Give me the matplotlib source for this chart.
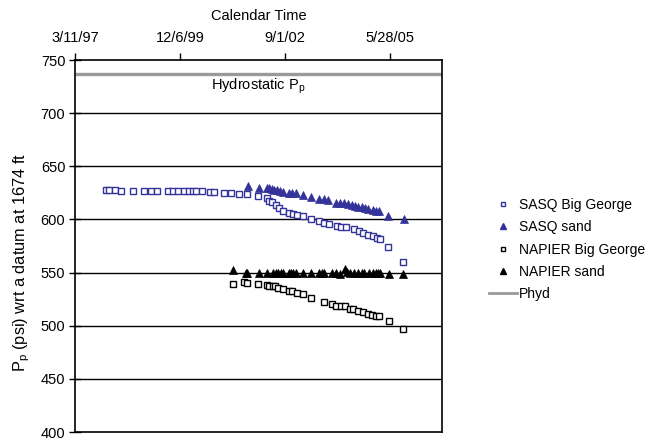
import matplotlib
matplotlib.use("Agg")
import matplotlib.pyplot as plt
import pandas as pd
from matplotlib.lines import Line2D

plt.rcParams['font.family'] = ['Liberation Sans', 'DejaVu Sans']
plt.rcParams['mathtext.fontset'] = 'custom'
plt.rcParams['mathtext.rm'] = 'Liberation Sans'
plt.rcParams['mathtext.it'] = 'Liberation Sans'

# Dates are spreadsheet serial day numbers
sasq_bg_days = [35796, 35824, 35881, 35938, 36050, 36161, 36225, 36279, 36384, 36434,
                36485, 36536, 36587, 36628, 36654, 36715, 36787, 36828, 36920, 36990,
                37063, 37137, 37247, 37327, 37352, 37375, 37416, 37448, 37486, 37543,
                37575, 37613, 37671, 37747, 37826, 37874, 37919, 37995, 38039, 38081,
                38160, 38207, 38248, 38296, 38344, 38382, 38408, 38487, 38630]
sasq_bg_psi = [627.5, 627.5, 627.3, 627.2, 627.0, 627.0, 627.0, 627.0, 626.8, 626.8,
               626.7, 626.7, 626.6, 626.6, 626.5, 626.3, 626.0, 625.9, 625.2, 625.0,
               624.3, 623.5, 622.5, 620.3, 617.2, 616.0, 613.4, 610.9, 608.1, 605.6,
               604.7, 604.0, 603.1, 600.3, 598.7, 596.8, 595.3, 594.0, 593.0, 592.5,
               590.6, 588.7, 587.4, 585.6, 584.3, 582.5, 581.2, 574.0, 560.2]

sasq_sand_days = [37152, 37254, 37328, 37352, 37375, 37400, 37428, 37454, 37480, 37540,
                  37566, 37607, 37671, 37750, 37829, 37874, 37915, 37988, 38026, 38064,
                  38105, 38138, 38169, 38201, 38233, 38265, 38296, 38338, 38369, 38401,
                  38487, 38636]
sasq_sand_psi = [631.2, 630.0, 629.1, 629.1, 628.4, 628.1, 627.5, 626.8, 625.9, 625.0,
                 624.4, 624.4, 622.8, 621.2, 619.0, 618.8, 618.1, 615.9, 615.6, 615.0,
                 614.1, 613.4, 612.5, 611.8, 611.3, 610.9, 609.7, 608.7, 608.1, 607.8,
                 603.4, 600.0]

napier_bg_days = [37009, 37114, 37143, 37247, 37327, 37352, 37385, 37407, 37438, 37486,
                  37540, 37566, 37613, 37671, 37747, 37874, 37947, 37988, 38033, 38074,
                  38122, 38153, 38201, 38243, 38290, 38334, 38369, 38398, 38493, 38630]
napier_bg_psi = [539.1, 541.0, 540.1, 539.1, 538.5, 537.8, 537.5, 536.9, 535.9, 534.7,
                 533.1, 532.2, 531.2, 530.0, 526.5, 522.2, 520.6, 519.0, 518.1, 518.1,
                 515.9, 515.7, 513.4, 512.5, 511.3, 509.7, 509.4, 509.4, 504.7, 497.2]

napier_sand_days = [37009, 37130, 37143, 37254, 37333, 37390, 37416, 37438, 37464, 37486,
                    37540, 37559, 37581, 37607, 37671, 37750, 37829, 37852, 37874, 37947,
                    37988, 38026, 38074, 38090, 38122, 38160, 38201, 38233, 38258, 38303,
                    38338, 38367, 38386, 38408, 38494, 38630]
napier_sand_psi = [552.0, 549.4, 549.4, 550.0, 549.4, 549.4, 550.0, 550.0, 550.0, 549.4,
                   550.0, 550.0, 549.4, 549.4, 549.4, 549.4, 549.4, 549.4, 549.4, 550.0,
                   549.4, 548.8, 553.2, 551.0, 549.4, 549.4, 549.4, 549.4, 549.4, 549.4,
                   549.4, 549.4, 549.4, 549.4, 548.8, 548.8]

hydrostatic_psi = 737.0

x_tick_labels = ['3/11/97', '12/6/99', '9/1/02', '5/28/05']
x_end = '10/10/06'
y_ticks = [400, 450, 500, 550, 600, 650, 700, 750]


def to_date(serials):
    return pd.to_datetime(pd.Series(serials), unit='D', origin='1899-12-30')


blue = '#333399'
gray = '#999999'
fs = 10.5

fig = plt.figure(figsize=(6.53, 4.40), dpi=100)
ax = fig.add_axes([75 / 653, 8 / 440, 367 / 653, 372 / 440])

tick_dates = pd.to_datetime(x_tick_labels, format='%m/%d/%y')
x_min = tick_dates[0]
x_max = pd.to_datetime(x_end, format='%m/%d/%y')

for y in y_ticks[1:-1]:
    ax.axhline(y, color='black', lw=1.0, zorder=1)

ax.plot([x_min, x_max], [hydrostatic_psi, hydrostatic_psi], color=gray, lw=2.4,
        solid_capstyle='butt', zorder=2)
ax.text(x_min + (x_max - x_min) * 0.4986, 725, r'Hydrostatic P$_\mathrm{p}$',
        ha='center', va='center', fontsize=fs)

ax.plot(to_date(sasq_bg_days), sasq_bg_psi, ls='none', marker='s', ms=4.0,
        mfc='white', mec=blue, mew=1.0, zorder=3)
ax.plot(to_date(sasq_sand_days), sasq_sand_psi, ls='none', marker='^', ms=5.5,
        mfc=blue, mec=blue, mew=0.5, zorder=3)
ax.plot(to_date(napier_bg_days), napier_bg_psi, ls='none', marker='s', ms=4.0,
        mfc='white', mec='black', mew=1.0, zorder=3)
ax.plot(to_date(napier_sand_days), napier_sand_psi, ls='none', marker='^', ms=5.5,
        mfc='black', mec='black', mew=0.5, zorder=3)

ax.set_xlim(x_min, x_max)
ax.set_ylim(400, 750)

ax.xaxis.tick_top()
ax.set_xticks(tick_dates)
ax.set_xticklabels(x_tick_labels, fontsize=fs)
ax.tick_params(axis='x', direction='out', length=5, width=1, pad=6)
ax.xaxis.set_label_position('top')
ax.set_xlabel('Calendar Time', fontsize=fs, labelpad=8)

ax.set_yticks(y_ticks)
ax.set_yticklabels([str(v) for v in y_ticks], fontsize=fs)
ax.tick_params(axis='y', direction='inout', length=8, width=1, pad=3)
ax.set_ylabel(r'P$_\mathrm{p}$ (psi) wrt a datum at 1674 ft', fontsize=11.8)
ax.yaxis.set_label_coords(-0.118, 0.457)

for s in ax.spines.values():
    s.set_linewidth(1.2)
    s.set_color('black')

handles = [
    Line2D([], [], ls='none', marker='s', ms=3.5, mfc='white', mec=blue, mew=1.0),
    Line2D([], [], ls='none', marker='^', ms=4.5, mfc=blue, mec=blue),
    Line2D([], [], ls='none', marker='s', ms=3.5, mfc='white', mec='black', mew=1.0),
    Line2D([], [], ls='none', marker='^', ms=4.5, mfc='black', mec='black'),
    Line2D([], [], color=gray, lw=2.0),
]
labels = ['SASQ Big George', 'SASQ sand', 'NAPIER Big George', 'NAPIER sand', 'Phyd']
fig.legend(handles, labels, loc='upper left', bbox_to_anchor=(482 / 653, 1 - 191 / 440),
           frameon=False, fontsize=10, handlelength=2.0, handletextpad=0.15,
           labelspacing=0.6, borderpad=0)

fig.savefig('out.png', dpi=100)
